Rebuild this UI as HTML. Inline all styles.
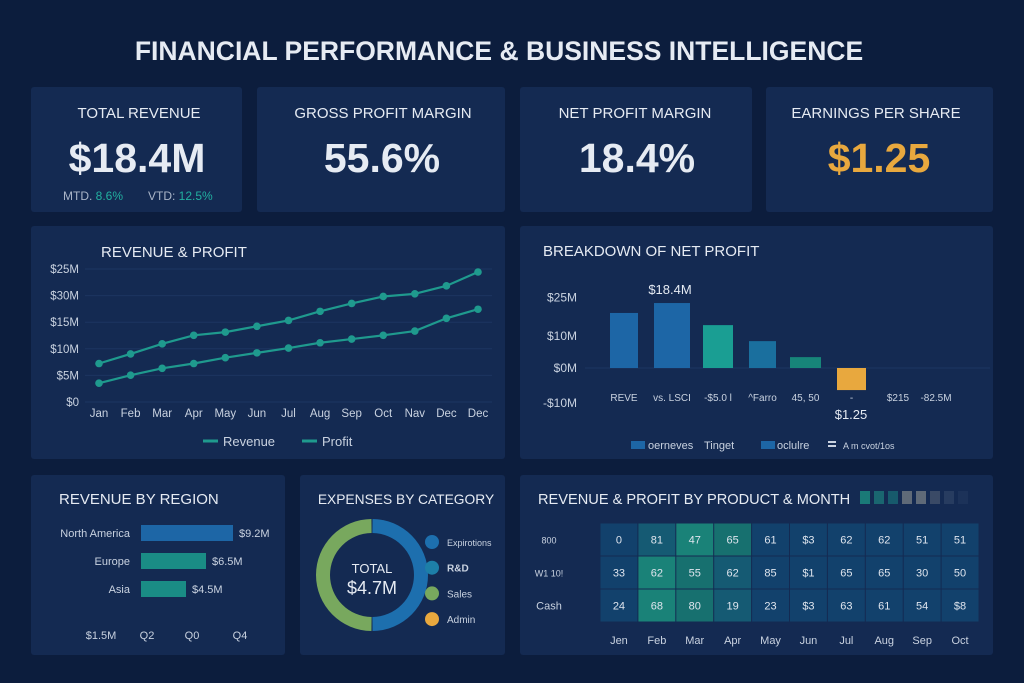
<!DOCTYPE html>
<html><head><meta charset="utf-8">
<style>
html,body{margin:0;padding:0;background:#0c1d3d;}
svg{display:block;font-family:"Liberation Sans",sans-serif;}
</style></head>
<body>
<svg id="dash" width="1024" height="683" viewBox="0 0 1024 683" xmlns="http://www.w3.org/2000/svg">
<rect x="0" y="0" width="1024" height="683" fill="#0c1d3d"/>
<text x="499" y="60" text-anchor="middle" font-size="26.5" font-weight="bold" fill="#e6ebf3">FINANCIAL PERFORMANCE &amp; BUSINESS INTELLIGENCE</text>

<g>
<rect x="31" y="87" width="211" height="125" rx="3" fill="#142a52"/>
<text x="139" y="118" text-anchor="middle" font-size="15" fill="#e6ebf3">TOTAL REVENUE</text>
<text x="137" y="172" text-anchor="middle" font-size="41" font-weight="bold" fill="#e6ebf3">$18.4M</text>
<text x="63" y="200" font-size="12" fill="#aab5c8">MTD. <tspan fill="#22b0a0">8.6%</tspan></text>
<text x="148" y="200" font-size="12" fill="#aab5c8">VTD: <tspan fill="#22b0a0">12.5%</tspan></text>
</g>
<g>
<rect x="257" y="87" width="248" height="125" rx="3" fill="#142a52"/>
<text x="383" y="118" text-anchor="middle" font-size="15" fill="#e6ebf3">GROSS PROFIT MARGIN</text>
<text x="382" y="172" text-anchor="middle" font-size="41" font-weight="bold" fill="#e6ebf3">55.6%</text>
</g>
<g>
<rect x="520" y="87" width="232" height="125" rx="3" fill="#142a52"/>
<text x="635" y="118" text-anchor="middle" font-size="15" fill="#e6ebf3">NET PROFIT MARGIN</text>
<text x="637" y="172" text-anchor="middle" font-size="41" font-weight="bold" fill="#e6ebf3">18.4%</text>
</g>
<g>
<rect x="766" y="87" width="227" height="125" rx="3" fill="#142a52"/>
<text x="876" y="118" text-anchor="middle" font-size="15" fill="#e6ebf3">EARNINGS PER SHARE</text>
<text x="879" y="172" text-anchor="middle" font-size="41" font-weight="bold" fill="#e8a83e">$1.25</text>
</g>

<rect x="31" y="226" width="474" height="233" rx="3" fill="#142a52"/>
<text x="101" y="257" font-size="15" fill="#e6ebf3">REVENUE &amp; PROFIT</text>
<g id="line-chart"></g>
<g>
<line x1="203" y1="441" x2="218" y2="441" stroke="#1f9a8e" stroke-width="3"/>
<text x="223" y="446" font-size="13" fill="#c9d2e0">Revenue</text>
<line x1="302" y1="441" x2="317" y2="441" stroke="#1f9a8e" stroke-width="3"/>
<text x="322" y="446" font-size="13" fill="#c9d2e0">Profit</text>
</g>

<rect x="520" y="226" width="473" height="233" rx="3" fill="#142a52"/>
<text x="543" y="256" font-size="15" fill="#e6ebf3">BREAKDOWN OF NET PROFIT</text>
<g id="waterfall"></g>
<g font-size="11" fill="#c9d2e0">
<rect x="631" y="441" width="14" height="8" fill="#1d66a6"/><text x="648" y="449">oerneves</text>
<text x="704" y="449">Tinget</text>
<rect x="761" y="441" width="14" height="8" fill="#1d66a6"/><text x="777" y="449">oclulre</text>
<rect x="828" y="441" width="8" height="2" fill="#c9d2e0"/><rect x="828" y="445" width="8" height="2" fill="#c9d2e0"/><text x="843" y="449" font-size="9">A m cvot/1os</text>
</g>

<rect x="31" y="475" width="254" height="180" rx="3" fill="#142a52"/>
<text x="59" y="504" font-size="15" fill="#e6ebf3">REVENUE BY REGION</text>
<g id="region"></g>

<rect x="300" y="475" width="205" height="180" rx="3" fill="#142a52"/>
<text x="406" y="504" text-anchor="middle" font-size="13.8" fill="#e6ebf3">EXPENSES BY CATEGORY</text>
<g id="donut"></g>

<rect x="520" y="475" width="473" height="180" rx="3" fill="#142a52"/>
<text x="538" y="504" font-size="14.6" fill="#e6ebf3">REVENUE &amp; PROFIT BY PRODUCT &amp; MONTH</text>
<g>
<rect x="860" y="491" width="10" height="13" fill="#1a7a77"/><rect x="874" y="491" width="10" height="13" fill="#1a6670"/><rect x="888" y="491" width="10" height="13" fill="#175a6c"/><rect x="902" y="491" width="10" height="13" fill="#5f6a78"/><rect x="916" y="491" width="10" height="13" fill="#5f6a78"/><rect x="930" y="491" width="10" height="13" fill="#3a4a66"/><rect x="944" y="491" width="10" height="13" fill="#273c60"/><rect x="958" y="491" width="10" height="13" fill="#1c3259"/>
</g>
<g id="heatmap"></g>

<script>
var NS="http://www.w3.org/2000/svg";
function mk(tag,attrs,parent,txt){var e=document.createElementNS(NS,tag);for(var k in attrs)e.setAttribute(k,attrs[k]);if(txt!==undefined)e.textContent=txt;parent.appendChild(e);return e;}

// ---- Line chart data
var lineMonths=["Jan","Feb","Mar","Apr","May","Jun","Jul","Aug","Sep","Oct","Nav","Dec","Dec"];
var revenueValues=[7.8,9.6,11.5,13.1,13.7,14.8,15.9,17.6,19.1,20.4,20.9,22.4,25.0];
var profitValues=[4.1,5.6,6.9,7.8,8.9,9.8,10.7,11.7,12.4,13.1,13.9,16.3,18.0];
var lineTickLabels=["$0","$5M","$10M","$15M","$30M","$25M"];
var lineTickValues=[0,5,10,15,20,25];

// ---- Waterfall data
var wfCategories=["REVE","vs. LSCI","-$5.0 l","^Farro","45, 50","-"];
var wfValues=[17.2,20.3,13.4,8.4,3.4,-6.9];
var wfColors=["#1d66a6","#1d66a6","#1a9e93","#1a6f9e","#178579","#e8a83e"];
var wfExtraLabels=["$215","-82.5M"];
var wfTickLabels=["-$10M","$0M","$10M","$25M"];
var wfTickValues=[-11,0,10,22];

// ---- Region data
var regions=["North America","Europe","Asia"];
var regionValues=[9.2,6.5,4.5];
var regionLabels=["$9.2M","$6.5M","$4.5M"];
var regionColors=["#1d66a6","#1a8c85","#1a8c85"];
var regionAxis=["$1.5M","Q2","Q0","Q4"];

// ---- Donut data
var donutCats=["Expirotions","R&D","Sales","Admin"];
var donutValues=[50,0,50,0];
var donutColors=["#1d6fae","#1d7fa8","#78a85e","#e8a83e"];

// ---- Heatmap data
var hmMonths=["Jen","Feb","Mar","Apr","May","Jun","Jul","Aug","Sep","Oct"];
var hmRows=["800","W1 10!","Cash"];
var hmLabels=[["0","81","47","65","61","$3","62","62","51","51"],["33","62","55","62","85","$1","65","65","30","50"],["24","68","80","19","23","$3","63","61","54","$8"]];
var hmLevels=[[1,2,4,3,1,1,1,1,1,1],[1,4,3,2,1,1,1,1,1,1],[1,4,3,2,1,1,1,1,1,1]];

// Line chart
(function(){
 var g=document.getElementById('line-chart');
 var x0=99,x1=478,y0=405,y1=272;
 function xs(i){return x0+(x1-x0)*i/(lineMonths.length-1);}
 function ys(v){return y0-(v/25)*(y0-y1);}
 lineTickValues.forEach(function(v,i){
  var l=mk('line',{x1:85,x2:492,y1:ys(v)-3,y2:ys(v)-3,stroke:'#1c3561','stroke-width':1},g);
  
  
  var t=mk('text',{x:79,y:ys(v)+1,'text-anchor':'end','font-size':11.5,fill:'#c9d2e0'},g,lineTickLabels[i]);
  
  
 });
 lineMonths.forEach(function(m,i){
  var t=mk('text',{x:xs(i),y:417,'text-anchor':'middle','font-size':11.5,fill:'#c9d2e0'},g,m);
  
  
 });
 [[revenueValues,'revenue'],[profitValues,'profit']].forEach(function(s){
  var pts=s[0].map(function(v,i){return xs(i)+','+ys(v);}).join(' ');
  var p=mk('polyline',{points:pts,fill:'none',stroke:'#1f9a8e','stroke-width':2.2},g);
  
  
  s[0].forEach(function(v,i){
   var c=mk('circle',{cx:xs(i),cy:ys(v),r:3.8,fill:'#1f9a8e'},g);
   
   
  });
 });
})();

// Waterfall
(function(){
 var g=document.getElementById('waterfall');
 var zero=368,k=3.2;
 function ys(v){return zero-v*k;}
 wfTickValues.forEach(function(v,i){
  var t=mk('text',{x:577,y:ys(v)+4,'text-anchor':'end','font-size':12,fill:'#c9d2e0'},g,wfTickLabels[i]);
  
  
 });
 var zl=mk('line',{x1:585,x2:990,y1:zero,y2:zero,stroke:'#1c3561','stroke-width':1},g);
 
 
 var bx=[610,654,703,749,790,837],bw=[28,36,30,27,31,29];
 wfValues.forEach(function(v,i){
  var y=Math.min(ys(v),zero),h=Math.abs(v*k);
  var r=mk('rect',{x:bx[i],y:y,width:bw[i],height:h,fill:wfColors[i]},g);
  
  
  var t=mk('text',{x:bx[i]+bw[i]/2,y:401,'text-anchor':'middle','font-size':10,fill:'#c9d2e0'},g,wfCategories[i]);
  
  
 });
 var mv=mk('text',{x:670,y:ys(wfValues[1])-9,'text-anchor':'middle','font-size':13,fill:'#e6ebf3'},g,'$18.4M');
 
 
 var lv=mk('text',{x:851,y:ys(wfValues[5])+29,'text-anchor':'middle','font-size':13,fill:'#e6ebf3'},g,'$1.25');
 
 
 var ex=[898,936];
 wfExtraLabels.forEach(function(s,i){
  var t=mk('text',{x:ex[i],y:401,'text-anchor':'middle','font-size':10,fill:'#c9d2e0'},g,s);
  
  
 });
})();

// Region bars
(function(){
 var g=document.getElementById('region');
 var x0=141,k=10,rowY=[525,553,581];
 regions.forEach(function(r,i){
  var w=regionValues[i]*k;
  var b=mk('rect',{x:x0,y:rowY[i],width:w,height:16,fill:regionColors[i]},g);
  
  
  var t=mk('text',{x:130,y:rowY[i]+12,'text-anchor':'end','font-size':11,fill:'#c9d2e0'},g,r);
  
  
  var v=mk('text',{x:x0+w+6,y:rowY[i]+12,'font-size':11,fill:'#c9d2e0'},g,regionLabels[i]);
  
  
 });
 var ax=[101,147,192,240];
 regionAxis.forEach(function(s,i){
  var t=mk('text',{x:ax[i],y:639,'text-anchor':'middle','font-size':11,fill:'#c9d2e0'},g,s);
  
  
 });
})();

// Donut
(function(){
 var g=document.getElementById('donut');
 var cx=372,cy=575,ro=56,ri=42;
 var total=donutValues.reduce(function(a,b){return a+b;},0);
 var a=-Math.PI/2;
 donutValues.forEach(function(v,i){
  if(v<=0)return;
  var a2=a+v/total*2*Math.PI;
  var gap=0.01;
  var s=a+gap,e=a2-gap;
  var large=(e-s)>Math.PI?1:0;
  var d='M'+(cx+ro*Math.cos(s))+' '+(cy+ro*Math.sin(s))+' A'+ro+' '+ro+' 0 '+large+' 1 '+(cx+ro*Math.cos(e))+' '+(cy+ro*Math.sin(e))+
   ' L'+(cx+ri*Math.cos(e))+' '+(cy+ri*Math.sin(e))+' A'+ri+' '+ri+' 0 '+large+' 0 '+(cx+ri*Math.cos(s))+' '+(cy+ri*Math.sin(s))+'Z';
  var p=mk('path',{d:d,fill:donutColors[i]},g);
  
  
  a=a2;
 });
 var t1=mk('text',{x:cx,y:cy-2,'text-anchor':'middle','font-size':13,fill:'#e6ebf3'},g,'TOTAL');
 
 
 var t2=mk('text',{x:cx,y:cy+19,'text-anchor':'middle','font-size':18,fill:'#e6ebf3'},g,'$4.7M');
 
 
 donutCats.forEach(function(c,i){
  var y=542+i*25.7;
  var ci=mk('circle',{cx:432,cy:y,r:7,fill:donutColors[i]},g);
  
  
  var t=mk('text',{x:447,y:y+4,'font-size':i==0?9:10,'font-weight':i==1?'bold':'normal',fill:'#c9d2e0'},g,c);
  
  
 });
})();

// Heatmap
(function(){
 var g=document.getElementById('heatmap');
 var shades=["#11305a","#12416c","#155a73","#17706f","#1a8278"];
 var x0=600,x1=979,y0=523,rh=33;
 var cw=(x1-x0)/hmMonths.length;
 hmRows.forEach(function(r,ri){
  var t=mk('text',{x:549,y:y0+ri*rh+rh/2+4,'text-anchor':'middle','font-size':ri==2?11:9,fill:'#c9d2e0'},g,r);
  
  
  hmMonths.forEach(function(m,ci){
   var c=mk('rect',{x:x0+ci*cw+0.5,y:y0+ri*rh+0.5,width:cw-1,height:rh-1,fill:shades[hmLevels[ri][ci]]},g);
   
   
   var v=mk('text',{x:x0+ci*cw+cw/2,y:y0+ri*rh+rh/2+4,'text-anchor':'middle','font-size':11,fill:'#dfe5ee'},g,hmLabels[ri][ci]);
   
   
  });
 });
 hmMonths.forEach(function(m,ci){
  var t=mk('text',{x:x0+ci*cw+cw/2,y:644,'text-anchor':'middle','font-size':11,fill:'#c9d2e0'},g,m);
  
  
 });
})();
</script>
</svg>
</body></html>
